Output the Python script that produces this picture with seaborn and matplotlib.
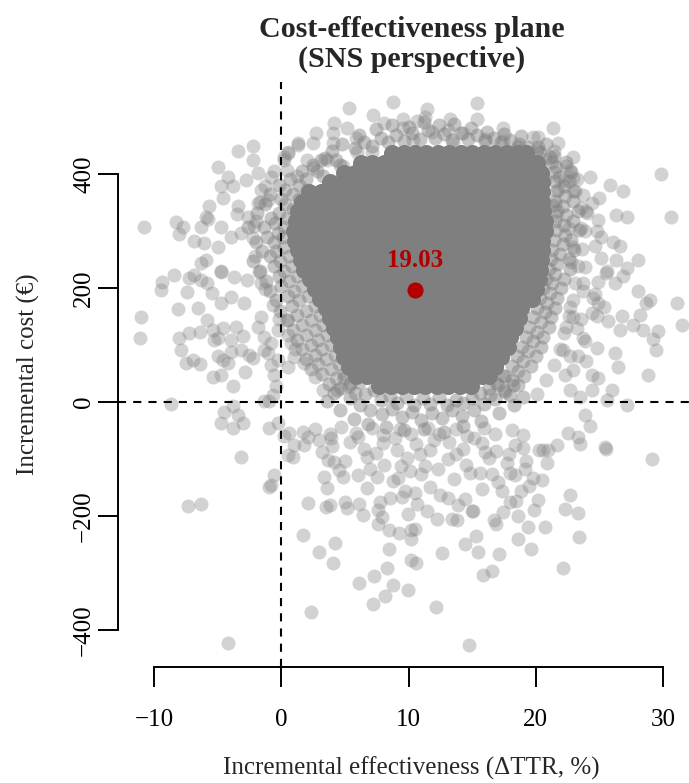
import matplotlib
matplotlib.use("Agg")
import matplotlib.pyplot as plt
import seaborn as sns
import pandas as pd

# --- values ---

# dense centre of the bootstrap cloud (overlaps so much it reads as solid grey),
# one row of effectiveness values per cost level
core_cost = [436, 419, 402, 385, 368, 351, 334, 317, 300, 283, 266, 249, 232,
             215, 198, 181, 164, 147, 130, 113, 96, 79, 62, 45, 28]
core_eff = [
    [8.7, 9.6, 10.5, 11.4, 12.3, 13.2, 14.1, 15.0, 15.9, 16.8, 17.7, 18.6, 19.2],
    [6.25, 7.15, 8.05, 8.95, 9.85, 10.75, 11.65, 12.55, 13.45, 14.35, 15.25, 16.15,
     17.05, 17.95, 18.85, 19.75, 20.1],
    [4.9, 5.8, 6.7, 7.6, 8.5, 9.4, 10.3, 11.2, 12.1, 13.0, 13.9, 14.8, 15.7, 16.6, 17.5,
     18.4, 19.3, 20.2, 20.4],
    [3.85, 4.75, 5.65, 6.55, 7.45, 8.35, 9.25, 10.15, 11.05, 11.95, 12.85, 13.75, 14.65,
     15.55, 16.45, 17.35, 18.25, 19.15, 20.05, 20.5],
    [2.2, 3.1, 4.0, 4.9, 5.8, 6.7, 7.6, 8.5, 9.4, 10.3, 11.2, 12.1, 13.0, 13.9, 14.8, 15.7,
     16.6, 17.5, 18.4, 19.3, 20.2, 20.5],
    [1.65, 2.55, 3.45, 4.35, 5.25, 6.15, 7.05, 7.95, 8.85, 9.75, 10.65, 11.55, 12.45, 13.35,
     14.25, 15.15, 16.05, 16.95, 17.85, 18.75, 19.65, 20.5],
    [1.3, 2.2, 3.1, 4.0, 4.9, 5.8, 6.7, 7.6, 8.5, 9.4, 10.3, 11.2, 12.1, 13.0, 13.9, 14.8,
     15.7, 16.6, 17.5, 18.4, 19.3, 20.2, 20.6],
    [1.15, 2.05, 2.95, 3.85, 4.75, 5.65, 6.55, 7.45, 8.35, 9.25, 10.15, 11.05, 11.95, 12.85,
     13.75, 14.65, 15.55, 16.45, 17.35, 18.25, 19.15, 20.05, 20.7],
    [1.0, 1.9, 2.8, 3.7, 4.6, 5.5, 6.4, 7.3, 8.2, 9.1, 10.0, 10.9, 11.8, 12.7, 13.6, 14.5,
     15.4, 16.3, 17.2, 18.1, 19.0, 19.9, 20.7],
    [1.05, 1.95, 2.85, 3.75, 4.65, 5.55, 6.45, 7.35, 8.25, 9.15, 10.05, 10.95, 11.85, 12.75,
     13.65, 14.55, 15.45, 16.35, 17.25, 18.15, 19.05, 19.95, 20.5],
    [1.3, 2.2, 3.1, 4.0, 4.9, 5.8, 6.7, 7.6, 8.5, 9.4, 10.3, 11.2, 12.1, 13.0, 13.9, 14.8,
     15.7, 16.6, 17.5, 18.4, 19.3, 20.2, 20.5],
    [1.5, 2.4, 3.3, 4.2, 5.1, 6.0, 6.9, 7.8, 8.7, 9.6, 10.5, 11.4, 12.3, 13.2, 14.1, 15.0,
     15.9, 16.8, 17.7, 18.6, 19.5, 20.4],
    [1.8, 2.7, 3.6, 4.5, 5.4, 6.3, 7.2, 8.1, 9.0, 9.9, 10.8, 11.7, 12.6, 13.5, 14.4, 15.3,
     16.2, 17.1, 18.0, 18.9, 19.8, 20.3],
    [2.25, 3.15, 4.05, 4.95, 5.85, 6.75, 7.65, 8.55, 9.45, 10.35, 11.25, 12.15, 13.05, 13.95,
     14.85, 15.75, 16.65, 17.55, 18.45, 19.35, 20.25],
    [2.6, 3.5, 4.4, 5.3, 6.2, 7.1, 8.0, 8.9, 9.8, 10.7, 11.6, 12.5, 13.4, 14.3, 15.2, 16.1,
     17.0, 17.9, 18.8, 19.6, 20.0],
    [3.05, 3.95, 4.85, 5.75, 6.65, 7.55, 8.45, 9.35, 10.25, 11.15, 12.05, 12.95, 13.85, 14.75,
     15.65, 16.55, 17.45, 18.35, 19.25, 19.7],
    [3.5, 4.4, 5.3, 6.2, 7.1, 8.0, 8.9, 9.8, 10.7, 11.6, 12.5, 13.4, 14.3, 15.2, 16.1, 17.0,
     17.9, 18.8],
    [3.85, 4.75, 5.65, 6.55, 7.45, 8.35, 9.25, 10.15, 11.05, 11.95, 12.85, 13.75, 14.65,
     15.55, 16.45, 17.35, 18.25, 18.7],
    [4.1, 5.0, 5.9, 6.8, 7.7, 8.6, 9.5, 10.4, 11.3, 12.2, 13.1, 14.0, 14.9, 15.8, 16.7, 17.6,
     18.4],
    [4.45, 5.35, 6.25, 7.15, 8.05, 8.95, 9.85, 10.75, 11.65, 12.55, 13.45, 14.35, 15.25,
     16.15, 17.05, 17.95],
    [4.7, 5.6, 6.5, 7.4, 8.3, 9.2, 10.1, 11.0, 11.9, 12.8, 13.7, 14.6, 15.5, 16.4, 17.3, 17.8],
    [4.95, 5.85, 6.75, 7.65, 8.55, 9.45, 10.35, 11.25, 12.15, 13.05, 13.95, 14.85, 15.75,
     16.65, 17.3],
    [5.3, 6.2, 7.1, 8.0, 8.9, 9.8, 10.7, 11.6, 12.5, 13.4, 14.3, 15.2, 16.1, 16.8],
    [5.85, 6.75, 7.65, 8.55, 9.45, 10.35, 11.25, 12.15, 13.05, 13.95, 14.85, 15.75, 16.3],
    [7.7, 8.6, 9.5, 10.4, 11.3, 12.2, 13.1, 14.0, 14.9],
]

# piled-up replicates hugging the solid centre (several per spot)
top_pile = [
    (5.8, 446), (6.5, 456), (7.1, 449), (7.8, 462), (8.4, 455), (9.0, 468), (9.6, 458),
    (10.3, 471), (10.9, 461), (11.5, 476), (12.1, 463), (12.8, 470), (13.4, 459), (14.1, 472),
    (14.7, 461), (15.4, 468), (16.0, 458), (16.7, 463), (17.3, 455), (18.0, 460), (18.7, 452),
    (19.4, 447), (20.1, 441), (6.1, 468), (7.4, 478), (8.7, 486), (10.0, 482), (11.2, 490),
    (12.4, 485), (13.6, 488), (14.9, 480), (16.2, 474), (17.5, 470), (18.8, 466), (4.8, 452),
    (4.0, 440), (3.4, 428), (20.8, 452), (21.4, 432),
]

left_pile = [
    (4.3, 425), (3.1, 425), (4.6, 415), (2.5, 415), (2.8, 405), (1.6, 405), (3.3, 397),
    (1.9, 390), (0.7, 390), (1.4, 380), (-0.2, 380), (2.0, 372), (0.3, 372), (0.9, 364),
    (-0.9, 364), (1.4, 356), (0.0, 356), (0.3, 347), (-1.3, 347), (0.9, 339), (-0.2, 331),
    (-1.9, 331), (0.4, 322), (-0.8, 322), (-0.5, 314), (0.2, 306), (-1.4, 306), (-2.6, 306),
    (-0.3, 297), (0.1, 289), (-1.1, 289), (-0.6, 280), (-2.0, 280), (0.2, 272), (-0.4, 264),
    (-1.5, 264), (0.6, 255), (-0.9, 255), (-0.1, 247), (-2.2, 247), (0.8, 238), (-0.6, 238),
    (0.2, 230), (-1.7, 230), (1.2, 221), (-0.2, 221), (0.6, 212), (-1.2, 212), (1.6, 203),
    (0.0, 203), (1.0, 195), (-0.9, 195), (2.1, 186), (0.5, 186), (1.4, 178), (-0.4, 178),
    (2.6, 169), (0.8, 169), (1.9, 160), (-0.1, 160), (3.0, 152), (1.2, 152), (2.3, 143),
    (0.4, 143), (3.3, 135), (1.6, 135), (2.6, 126), (0.9, 126), (3.6, 118), (1.9, 118),
    (2.9, 109), (1.2, 109), (3.9, 100), (2.3, 100), (3.2, 92), (1.6, 92), (4.2, 83),
    (2.6, 83), (3.5, 75), (1.9, 75), (4.5, 66), (2.9, 66), (3.9, 58), (2.3, 58), (4.9, 49),
    (3.2, 49), (4.3, 41), (5.4, 32), (3.7, 32), (4.7, 24), (5.8, 15), (4.1, 15),
]

right_pile = [
    (18.6, 447), (20.2, 447), (20.3, 438), (21.1, 430), (21.3, 421), (22.4, 421), (21.6, 412),
    (21.4, 404), (22.8, 404), (21.8, 395), (21.5, 387), (22.6, 387), (22.2, 378), (21.6, 370),
    (23.1, 370), (22.3, 361), (21.5, 352), (22.9, 352), (22.1, 344), (21.7, 335), (23.3, 335),
    (22.4, 327), (21.5, 318), (22.9, 318), (22.2, 310), (21.6, 301), (23.4, 301), (22.3, 293),
    (21.4, 284), (22.8, 284), (22.1, 276), (21.3, 267), (23.0, 267), (21.9, 259), (21.2, 250),
    (22.6, 250), (21.7, 242), (21.0, 233), (22.7, 233), (21.5, 225), (20.8, 216), (22.2, 216),
    (21.3, 208), (20.6, 199), (22.0, 199), (21.1, 191), (20.3, 182), (21.7, 182), (20.9, 174),
    (20.1, 165), (21.5, 165), (20.7, 157), (19.8, 148), (21.2, 148), (20.4, 140), (19.5, 131),
    (21.0, 131), (20.1, 123), (19.2, 114), (20.6, 114), (19.8, 106), (18.9, 97), (20.4, 97),
    (19.4, 89), (18.5, 80), (20.0, 80), (19.0, 72), (18.1, 63), (19.6, 63), (18.6, 55),
    (17.6, 46), (19.1, 46), (18.1, 38), (17.0, 29), (18.6, 29), (17.5, 21), (16.4, 12),
    (18.0, 12),
]

bottom_pile = [
    (4.9, 42), (5.3, 27), (6.1, 35), (6.6, 14), (7.3, 20), (7.8, 3), (8.5, 11), (9.1, -2),
    (9.8, 8), (10.4, -5), (11.1, 6), (11.7, -3), (12.4, 9), (13.0, -6), (13.7, 4), (14.3, -2),
    (15.0, 7), (15.6, 16), (16.3, 24), (16.9, 33), (17.4, 45),
    (4.4, 20), (5.4, 6), (6.2, -6), (7.0, -15), (7.9, -22), (8.7, -12), (9.5, -27),
    (10.3, -17), (11.0, -31), (11.8, -20), (12.6, -29), (13.4, -15), (14.2, -25), (15.1, -14),
    (15.9, -4), (16.8, 5), (17.6, 18), (18.2, 30),
    (3.6, 2), (4.6, -14), (5.7, -30), (6.8, -38), (8.2, -44), (9.6, -50), (11.2, -47),
    (12.8, -52), (14.3, -42), (15.7, -33), (17.1, -20), (18.3, -6), (19.0, 8),
]

# single (effectiveness, cost) replicates read around the edge of the cloud
upper_pts = [
    (-5.0, 412), (-3.44, 440), (-2.22, 448), (-2.22, 425), (-4.23, 395), (-4.75, 379),
    (-3.84, 379), (-2.79, 389), (-1.87, 401), (-0.83, 395), (0.49, 439), (1.27, 451),
    (0.22, 424), (5.33, 515), (8.79, 526), (7.17, 504), (8.08, 489), (4.15, 489),
    (2.71, 471), (4.02, 471), (5.12, 480), (5.85, 463), (9.57, 496), (9.57, 480),
    (10.62, 492), (11.41, 513), (11.28, 500), (13.24, 496), (13.11, 477), (15.34, 525),
    (15.34, 496), (14.29, 471), (11.8, 474), (1.32, 454), (2.5, 454), (0.53, 436),
    (4.07, 454), (1.98, 425), (2.5, 410), (1.19, 397), (0.41, 407), (5.91, 439),
    (10.36, 460), (13.5, 454), (7.1, 439), (3.55, 425), (4.86, 413), (15.99, 461),
    (17.38, 481), (17.43, 458), (19.79, 464), (20.18, 465), (21.36, 481), (21.75, 454),
    (18.61, 442), (20.71, 426), (22.93, 430), (22.67, 407), (24.24, 395), (22.93, 392),
    (25.82, 381), (29.88, 399), (20.71, 389), (22.2, 389), (0.2, 430), (-0.6, 405),
]

left_pts = [
    (-10.78, 307), (-8.29, 316), (-7.77, 307), (-8.03, 294), (-4.62, 357), (-5.67, 343),
    (-5.93, 325), (-5.8, 320), (-6.33, 307), (-6.85, 283), (-6.07, 278), (-4.75, 307),
    (-3.44, 343), (-3.5, 330), (-5.01, 272), (-5.93, 249), (-6.33, 244), (-4.75, 229),
    (-8.42, 223), (-6.85, 223), (-9.4, 210), (-3.97, 290), (-3.18, 296), (-1.61, 372),
    (-1.08, 354), (-1.87, 349), (-2.66, 325), (-2.14, 308), (-11.04, 149), (-11.1, 112),
    (-8.68, -4), (-9.47, 196), (-7.43, 192), (-8.11, 163), (-7.24, 217), (-6.33, 214),
    (-6.59, 164), (-5.85, 144), (-8.03, 112), (-7.24, 120), (-6.38, 123), (-7.9, 91),
    (-7.5, 68), (-6.98, 74), (-6.38, 67), (-5.41, 126), (-5.28, 109), (-5.01, 112),
    (-4.62, 129), (-3.97, 109), (-3.58, 132), (-3.05, 115), (-3.18, 91), (-3.97, 88),
    (-5.01, 80), (-4.62, 74), (-4.23, 68), (-5.41, 44), (-4.75, 47), (-3.79, 27),
    (-2.87, 53), (-2.26, 77), (-2.53, 82), (-4.49, -17), (-3.84, -8), (-3.44, -23),
    (-3.05, -37), (-4.75, -37), (-3.84, -46), (-1.35, 1), (-0.96, 1), (-0.69, 12),
    (-0.96, -46), (-0.3, -37), (-0.43, 27), (-0.83, 65), (-1.08, 85), (-5.85, 209),
    (-4.75, 228), (-3.73, 219), (-2.71, 214), (-1.61, 209), (-5.46, 191), (-3.97, 184),
    (-2.95, 173), (-4.75, 173), (-1.85, 132), (-1.38, 114), (-1.61, 149), (-0.83, 103),
    (-0.28, 126), (0.51, 144), (0.75, 103), (-0.28, 74), (0.51, 61), (0.98, 79),
    (-1.38, 91), (-0.59, 47), (-1.3, 378), (-1.7, 350), (-2.0, 318), (-2.2, 287),
    (-2.1, 256), (-1.8, 228), (-1.3, 198), (-0.7, 170), (-0.2, 145), (0.5, 118),
    (1.1, 92), (1.8, 68), (2.6, 44), (3.3, 20),
]

right_pts = [
    (26.86, 369), (30.66, 325), (21.75, 372), (22.93, 370), (24.98, 357), (24.38, 349),
    (23.59, 340), (23.98, 335), (21.49, 346), (26.34, 328), (27.13, 324), (24.9, 319),
    (23.59, 305), (22.6, 305), (24.77, 299), (25.16, 290), (26.08, 281), (26.6, 274),
    (24.64, 274), (25.16, 252), (26.34, 249), (28.04, 248), (27.13, 235), (25.6, 230),
    (23.85, 237), (22.8, 246), (22.93, 272), (21.3, 346), (21.6, 326), (26.86, 220),
    (24.9, 211), (26.2, 208), (25.55, 226), (28.04, 194), (28.96, 179), (28.64, 174),
    (31.1, 173), (31.53, 135), (29.61, 125), (29.22, 111), (29.43, 91), (28.83, 47),
    (28.43, 126), (27.65, 135), (28.17, 153), (26.81, 150), (26.6, 126), (25.68, 142),
    (24.77, 150), (25.34, 167), (24.5, 182), (24.9, 173), (23.72, 194), (23.72, 208),
    (24.77, 94), (26.21, 85), (26.47, 62), (23.85, 106), (23.32, 80), (23.98, 71),
    (24.9, 42), (25.95, 21), (24.38, 21), (23.46, 9), (27.13, -6), (25.56, 4),
    (23.85, -23), (24.24, -43), (22.54, -55), (23.32, -61), (25.42, -80), (23.46, -74),
    (21.7, -76), (22.93, 56), (22.28, 47), (24.38, 47), (22.67, 21), (22.15, 91),
    (22.67, 80), (22.41, 132), (23.2, 129), (23.72, 112), (22.93, 149), (23.59, 145),
    (22.67, 167), (24.64, 190), (24.38, 156), (21.4, 440), (22.4, 414), (23.2, 390),
    (23.7, 362), (24.0, 332), (23.9, 300), (23.6, 268), (23.3, 238), (23.1, 208),
    (22.9, 178), (22.6, 150), (22.2, 120), (21.9, 92), (21.4, 64), (20.8, 38), (20.1, 14),
]

lower_pts = [
    (29.17, -100), (25.5, -83), (20.84, -108), (20.58, -84), (20.97, -84), (20.27, -85),
    (20.5, -137), (22.72, -163), (22.28, -188), (23.32, -195), (23.38, -237), (22.1, -291),
    (20.71, -219), (19.61, -258), (19.35, -220), (18.61, -240), (18.61, -201), (19.84, -189),
    (20.18, -172), (19.45, -147), (19.16, -118), (19.21, -103), (19.0, -81), (18.87, -157),
    (18.48, -173), (17.96, -175), (17.35, -157), (17.43, -194), (16.83, -214), (16.7, -208),
    (16.52, -127), (15.73, -153), (15.08, -191), (15.26, -236), (15.42, -264), (17.12, -267),
    (16.57, -296), (15.81, -303), (14.42, -249), (12.59, -265), (14.76, -427), (12.14, -359),
    (9.92, -330), (10.57, -282), (10.18, -277), (8.42, -258), (8.27, -292), (7.29, -305),
    (6.07, -318), (8.74, -322), (8.13, -340), (7.21, -355), (4.23, -248), (4.02, -283),
    (10.18, -225), (10.49, -223), (10.18, -241), (9.23, -230), (8.45, -225), (7.61, -215),
    (7.87, -202), (6.38, -198), (6.11, -179), (5.12, -187), (4.99, -175), (9.92, -196),
    (10.67, -179), (11.41, -191), (12.2, -206), (13.38, -206), (13.82, -208), (14.99, -191),
    (14.42, -171), (13.9, -181), (13.11, -169), (12.46, -163), (11.67, -149), (10.49, -160),
    (9.44, -166), (9.7, -157), (8.53, -169), (7.74, -175), (7.61, -189), (6.69, -151),
    (7.48, -131), (9.18, -134), (18.35, -128), (17.96, -125), (19.79, -134), (3.81, -181),
    (-3.18, -97), (-7.37, -182), (-6.33, -179), (-4.18, -423), (-0.57, -128), (-0.96, -150),
    (-0.8, -146), (0.22, -60), (0.61, -55), (0.88, -96), (0.49, -93), (1.0, -75),
    (1.79, -75), (2.06, -61), (1.67, -52), (2.97, -67), (3.89, -64), (2.06, -177),
    (3.5, -184), (1.67, -233), (2.97, -264), (2.32, -368), (3.37, -131), (3.55, -151),
    (3.63, -102), (4.15, -105), (4.81, -131), (4.55, -120),
    (2.6, -47), (3.8, -56), (4.7, -44), (5.9, -55), (7.1, -46), (8.0, -58), (9.3, -47),
    (10.2, -56), (11.5, -45), (12.4, -57), (13.7, -48), (14.6, -59), (15.9, -46), (16.8, -56),
    (18.1, -49), (19.0, -58), (4.0, -78), (5.4, -70), (6.5, -83), (8.0, -72), (9.1, -85),
    (10.6, -74), (11.7, -84), (13.2, -71), (14.3, -82), (15.8, -73), (16.9, -86), (18.4, -76),
    (5.0, -104), (6.7, -96), (8.1, -110), (9.9, -99), (11.3, -113), (13.1, -101), (14.5, -111),
    (16.3, -98), (17.7, -108), (6.0, -128), (8.8, -138), (11.0, -126), (13.6, -136),
    (15.6, -124), (17.0, -140), (3.2, -88), (6.0, -62), (7.4, -90), (8.9, -63), (10.9, -92),
    (12.0, -66), (13.7, -92), (15.1, -64), (16.0, -88), (17.9, -92), (7.0, -118),
    (10.1, -122), (12.3, -118), (14.8, -125), (9.4, -112),
]

mean_eff = 10.5
mean_cost = 197
mean_label = "19.03"

x_ticks = [-10, 0, 10, 20, 30]
y_ticks = [-400, -200, 0, 200, 400]
y_tick_labels = ["\u2212400", "\u2212200", "0", "200", "400"]

# --- build frames ---
core = pd.DataFrame(
    [(e, c) for c, row in zip(core_cost, core_eff) for e in row],
    columns=["eff", "cost"],
)
pile = pd.DataFrame(top_pile + left_pile + right_pile + bottom_pile,
                    columns=["eff", "cost"])
cloud = pd.DataFrame(upper_pts + left_pts + right_pts + lower_pts,
                     columns=["eff", "cost"])

sns.set_style("ticks")
plt.rcParams["font.family"] = ["Liberation Serif", "DejaVu Serif"]

grey = "#7f7f7f"
red = "#b00000"

fig = plt.figure(figsize=(6.89, 7.83), dpi=100)
# plot region runs a little past the right edge of the picture (as in the original)
ax = fig.add_axes([118 / 689, 116 / 783, 587 / 689, 585 / 783])

sns.scatterplot(data=core, x="eff", y="cost", s=150, color=grey, alpha=1,
                linewidth=0, ax=ax, zorder=1)
sns.scatterplot(data=pile, x="eff", y="cost", s=102, color=grey, alpha=0.45,
                linewidth=0, ax=ax, zorder=2)
sns.scatterplot(data=cloud, x="eff", y="cost", s=102, color=grey, alpha=0.35,
                linewidth=0, ax=ax, zorder=2)

dash = (0, (3.9, 3.4))
ax.axhline(0, color="black", lw=1.5, linestyle=dash, zorder=3)
ax.axvline(0, color="black", lw=1.5, linestyle=dash, zorder=3)

sns.scatterplot(x=[mean_eff], y=[mean_cost], s=135, color=red, linewidth=0,
                ax=ax, zorder=5)
ax.annotate(mean_label, (mean_eff, mean_cost), xytext=(0, 21),
            textcoords="offset points", ha="center", va="center",
            fontsize=18, fontweight="bold", color=red, zorder=6)

ax.set_xlim(-12.85, 33.3)
ax.set_ylim(-465, 561)

sns.despine(ax=ax)
ax.spines["left"].set_bounds(-400, 400)
ax.spines["bottom"].set_bounds(-10, 30)
for side in ["left", "bottom"]:
    ax.spines[side].set_linewidth(1.4)
    ax.spines[side].set_color("black")

ax.set_xticks(x_ticks)
ax.set_yticks(y_ticks)
ax.set_yticklabels(y_tick_labels, rotation=90, va="center")
ax.tick_params(axis="both", direction="out", length=14.4, width=1.4,
               color="black", labelcolor="black", labelsize=18)
ax.tick_params(axis="x", pad=16.2)
ax.tick_params(axis="y", pad=2)

ax.set_xlabel("Incremental effectiveness (\u0394TTR, %)", fontsize=18, va="center")
ax.set_ylabel("Incremental cost (\u20ac)", fontsize=18, va="center")
ax.xaxis.set_label_coords(0.5, (667 - 768) / 585)
ax.yaxis.set_label_coords((28 - 118) / 587, 0.5)

ax.set_title("Cost-effectiveness plane\n(SNS perspective)", fontsize=21.6,
             fontweight="bold", linespacing=1.15, pad=10.8)

fig.savefig("out.png", dpi=100)
